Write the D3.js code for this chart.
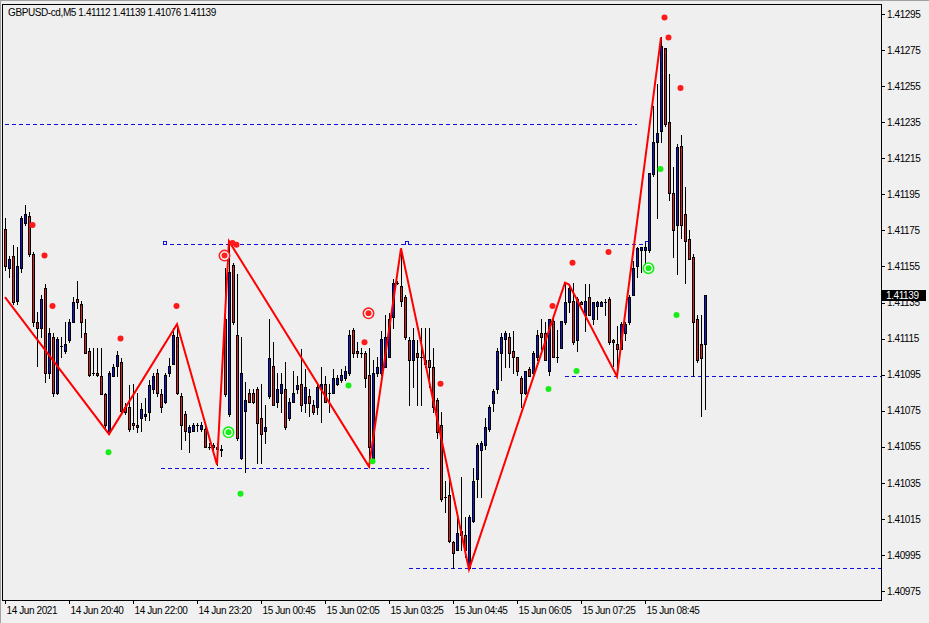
<!DOCTYPE html>
<html><head><meta charset="utf-8">
<script src="https://cdn.jsdelivr.net/npm/d3@7/dist/d3.min.js"></script>
<style>
html,body{margin:0;padding:0;background:#f0f0f0;overflow:hidden;}
svg{display:block;}
</style></head><body>
<svg id="chart" width="929" height="623"></svg>
<script>
const titleText = "GBPUSD-cd,M5  1.41112 1.41139 1.41076 1.41139";

const opens = [
1.41176,1.41154,1.41161,1.41136,1.41154,1.41179,1.41183,1.41162,1.41124,1.41121,
1.41143,1.41096,1.41116,1.41085,1.41111,1.41108,1.41114,1.41124,1.41137,1.41134,
1.41118,1.41108,1.41096,1.41096,1.41094,1.41084,1.41063,1.41094,1.41100,1.41102,
1.41077,1.41077,1.41068,1.41067,1.41071,1.41072,1.41074,1.41087,1.41096,1.41084,
1.41080,1.41096,1.41101,1.41116,1.41083,1.41073,1.41063,1.41064,1.41067,1.41065,
1.41065,1.41055,1.41056,1.41054,1.41053,1.41126,1.41073,1.41156,1.41117,1.41049,
1.41075,1.41085,1.41085,1.41087,1.41071,1.41064,1.41083,1.41100,1.41080,1.41085,
1.41087,1.41071,1.41080,1.41087,1.41090,1.41079,1.41083,1.41078,1.41077,1.41087,
1.41090,1.41085,1.41085,1.41090,1.41092,1.41093,1.41096,1.41120,1.41108,1.41107,
1.41107,1.41095,1.41049,1.41096,1.41096,1.41099,1.41105,1.41127,1.41146,1.41144,
1.41138,1.41114,1.41103,1.41107,1.41105,1.41103,1.41103,1.41099,1.41081,1.41067,
1.41027,1.41028,1.41002,1.40998,1.41006,1.41006,1.40988,1.41014,1.41037,1.41053,
1.41056,1.41065,1.41079,1.41087,1.41107,1.41115,1.41116,1.41108,1.41105,1.41093,
1.41085,1.41098,1.41096,1.41105,1.41118,1.41118,1.41097,1.41125,1.41105,1.41110,
1.41124,1.41135,1.41136,1.41114,1.41135,1.41128,1.41138,1.41126,1.41133,1.41133,
1.41135,1.41137,1.41114,1.41112,1.41109,1.41118,1.41124,1.41139,1.41155,1.41164,
1.41164,1.41164,1.41206,1.41224,1.41230,1.41276,1.41235,1.41196,1.41178,1.41222,
1.41184,1.41170,1.41160,1.41126,1.41112,1.41112];

const highs = [
1.41182,1.41161,1.41167,1.41166,1.41183,1.41189,1.41185,1.41163,1.41130,1.41139,
1.41145,1.41121,1.41118,1.41116,1.41116,1.41124,1.41126,1.41138,1.41147,1.41136,
1.41126,1.41110,1.41110,1.41110,1.41110,1.41085,1.41097,1.41101,1.41108,1.41104,
1.41079,1.41089,1.41090,1.41085,1.41079,1.41082,1.41092,1.41096,1.41098,1.41087,
1.41096,1.41104,1.41121,1.41123,1.41085,1.41075,1.41067,1.41068,1.41068,1.41069,
1.41067,1.41057,1.41057,1.41057,1.41056,1.41154,1.41169,1.41157,1.41151,1.41116,
1.41091,1.41087,1.41087,1.41088,1.41090,1.41078,1.41126,1.41113,1.41096,1.41096,
1.41102,1.41082,1.41097,1.41094,1.41109,1.41098,1.41087,1.41081,1.41090,1.41099,
1.41094,1.41090,1.41098,1.41095,1.41098,1.41100,1.41120,1.41121,1.41113,1.41110,
1.41108,1.41110,1.41103,1.41105,1.41119,1.41128,1.41129,1.41148,1.41147,1.41165,
1.41139,1.41116,1.41121,1.41114,1.41121,1.41121,1.41121,1.41110,1.41082,1.41074,
1.41036,1.41039,1.41003,1.41019,1.41038,1.41016,1.41017,1.41043,1.41057,1.41058,
1.41071,1.41078,1.41087,1.41110,1.41118,1.41119,1.41118,1.41119,1.41105,1.41094,
1.41097,1.41099,1.41108,1.41120,1.41126,1.41124,1.41126,1.41128,1.41120,1.41125,
1.41146,1.41145,1.41146,1.41138,1.41136,1.41145,1.41145,1.41135,1.41136,1.41136,
1.41137,1.41138,1.41115,1.41122,1.41124,1.41124,1.41139,1.41158,1.41166,1.41166,
1.41168,1.41207,1.41244,1.41256,1.41282,1.41276,1.41262,1.41210,1.41223,1.41228,
1.41199,1.41175,1.41162,1.41128,1.41128,1.41139];

const lows = [
1.41153,1.41149,1.41134,1.41134,1.41152,1.41178,1.41161,1.41122,1.41100,1.41116,
1.41091,1.41093,1.41083,1.41084,1.41105,1.41107,1.41113,1.41124,1.41132,1.41116,
1.41107,1.41094,1.41095,1.41094,1.41084,1.41066,1.41062,1.41094,1.41094,1.41074,
1.41073,1.41064,1.41065,1.41063,1.41064,1.41070,1.41070,1.41085,1.41083,1.41074,
1.41079,1.41094,1.41101,1.41084,1.41054,1.41059,1.41052,1.41064,1.41064,1.41064,
1.41055,1.41054,1.41052,1.41045,1.41050,1.41083,1.41072,1.41123,1.41059,1.41048,
1.41041,1.41080,1.41079,1.41046,1.41046,1.41057,1.41082,1.41078,1.41077,1.41074,
1.41065,1.41070,1.41080,1.41085,1.41075,1.41074,1.41072,1.41073,1.41073,1.41069,
1.41080,1.41074,1.41085,1.41089,1.41091,1.41092,1.41095,1.41105,1.41105,1.41105,
1.41088,1.41044,1.41047,1.41094,1.41095,1.41099,1.41105,1.41121,1.41145,1.41133,
1.41115,1.41078,1.41088,1.41078,1.41078,1.41099,1.41088,1.41074,1.41060,1.41025,
1.41019,1.41002,1.40988,1.40998,1.40998,1.40994,1.40987,1.41013,1.41027,1.41027,
1.41054,1.41064,1.41075,1.41085,1.41092,1.41099,1.41099,1.41096,1.41095,1.41077,
1.41084,1.41094,1.41095,1.41103,1.41109,1.41103,1.41095,1.41105,1.41102,1.41110,
1.41123,1.41130,1.41112,1.41108,1.41134,1.41119,1.41128,1.41123,1.41126,1.41133,
1.41128,1.41112,1.41100,1.41095,1.41109,1.41114,1.41123,1.41139,1.41149,1.41152,
1.41157,1.41163,1.41205,1.41182,1.41224,1.41233,1.41192,1.41160,1.41151,1.41171,
1.41146,1.41159,1.41094,1.41102,1.41072,1.41076];

const closes = [
1.41155,1.41159,1.41135,1.41155,1.41182,1.41184,1.41162,1.41124,1.41121,1.41137,
1.41096,1.41118,1.41085,1.41115,1.41111,1.41112,1.41124,1.41135,1.41135,1.41124,
1.41107,1.41095,1.41096,1.41095,1.41084,1.41067,1.41096,1.41099,1.41106,1.41075,
1.41074,1.41065,1.41067,1.41066,1.41076,1.41073,1.41089,1.41094,1.41085,1.41077,
1.41095,1.41100,1.41117,1.41085,1.41067,1.41064,1.41066,1.41067,1.41067,1.41067,
1.41055,1.41055,1.41055,1.41055,1.41054,1.41084,1.41152,1.41124,1.41060,1.41096,
1.41081,1.41080,1.41080,1.41068,1.41062,1.41066,1.41104,1.41078,1.41087,1.41090,
1.41066,1.41080,1.41085,1.41089,1.41078,1.41088,1.41079,1.41074,1.41088,1.41090,
1.41080,1.41085,1.41093,1.41093,1.41095,1.41097,1.41117,1.41107,1.41107,1.41107,
1.41093,1.41055,1.41096,1.41099,1.41115,1.41116,1.41126,1.41146,1.41146,1.41136,
1.41116,1.41103,1.41114,1.41105,1.41105,1.41101,1.41099,1.41077,1.41063,1.41026,
1.41027,1.41003,1.40996,1.41007,1.41008,1.40998,1.41016,1.41036,1.41056,1.41057,
1.41066,1.41077,1.41086,1.41108,1.41116,1.41118,1.41107,1.41105,1.41097,1.41085,
1.41097,1.41094,1.41107,1.41117,1.41116,1.41103,1.41126,1.41105,1.41105,1.41125,
1.41135,1.41143,1.41113,1.41137,1.41134,1.41136,1.41128,1.41135,1.41135,1.41135,
1.41135,1.41113,1.41113,1.41109,1.41123,1.41123,1.41138,1.41154,1.41165,1.41166,
1.41166,1.41207,1.41224,1.41229,1.41277,1.41234,1.41196,1.41175,1.41221,1.41178,
1.41169,1.41159,1.41124,1.41103,1.41104,1.41139];

const priceTicks = [1.40975,1.40995,1.41015,1.41035,1.41055,1.41075,1.41095,1.41115,1.41135,
  1.41155,1.41175,1.41195,1.41215,1.41235,1.41255,1.41275,1.41295];
const timeTickBars = [0,16,32,48,64,80,96,112,128,144,160];
const timeTickLabels = ["14 Jun 2021","14 Jun 20:40","14 Jun 22:00","14 Jun 23:20","15 Jun 00:45",
  "15 Jun 02:05","15 Jun 03:25","15 Jun 04:45","15 Jun 06:05","15 Jun 07:25","15 Jun 08:45"];

const zigzagBars   = [0,26,43,53,56,91,99,116,140,141,153,164];
const zigzagPrices = [1.41138,1.41062,1.41123,1.41045,1.41169,1.41044,1.41165,1.40987,1.41146,1.41145,1.41094,1.41282];

const upFractalBars   = [7,10,12,29,43,57,58,90,109,137,142,151,165,166,169];
const upFractalPrices = [1.41178,1.41161,1.41133,1.41115,1.41133,1.41168,1.41167,1.41113,1.41090,1.41133,1.41157,1.41163,1.41293,1.41282,1.41254];
const downFractalBars   = [26,59,86,92,136,143,164,168];
const downFractalPrices = [1.41052,1.41029,1.41089,1.41047,1.41087,1.41097,1.41209,1.41128];
const sellSignalBars = [55,91];
const sellSignalPrices = [1.41161,1.41129];
const buySignalBars = [56,161];
const buySignalPrices = [1.41063,1.41154];

const levelPrices = [1.41234,1.411675,1.41094,1.41043,1.40988];
const levelFrom   = [0,39.5,140,39,101];
const levelTo     = [158,160,null,106,null];
const levelMarkBars = [39.5,100,160];   // small markers on the 1.411675 level

const lastPrice = 1.41139;

// ---------------------------------------------------------------
const svg = d3.select("#chart");
const W = 929, H = 623;
const L = 2, R = 881, T = 4, B = 600;
const FONT = "'Liberation Sans', Arial, sans-serif";
const BLUE = "#1616c8", RED = "#dc1e1e", LEVEL = "#1010e0";

const n = opens.length;
const x = d3.scaleLinear().domain([0, 16]).range([5, 69]);
const y = d3.scaleLinear().domain([1.40975, 1.41295]).range([591, 14]);

svg.append("rect").attr("width", W).attr("height", H).attr("fill", "#f0f0f0");
svg.append("line").attr("x1",0).attr("x2",W).attr("y1",0.5).attr("y2",0.5).attr("stroke","#a0a0a0");
svg.append("line").attr("x1",0.5).attr("x2",0.5).attr("y1",0).attr("y2",H).attr("stroke","#a0a0a0");

svg.append("defs").append("clipPath").attr("id","plot")
  .append("rect").attr("x",L+1).attr("y",T+1).attr("width",R-L-1).attr("height",B-T-1);

svg.append("rect").attr("x", L + 0.5).attr("y", T + 0.5).attr("width", R - L).attr("height", B - T)
  .attr("fill", "#efefef").attr("stroke", "#000").attr("shape-rendering","crispEdges");

const plot = svg.append("g").attr("clip-path","url(#plot)");

// levels
const lv = plot.append("g").attr("shape-rendering","crispEdges");
levelPrices.forEach((p, k) => {
  const yy = Math.round(y(p)) + 0.5;
  const x1 = x(levelFrom[k]);
  const x2 = levelTo[k] === null ? R : x(levelTo[k]);
  lv.append("line").attr("x1", x1).attr("x2", x2).attr("y1", yy).attr("y2", yy)
    .attr("stroke", LEVEL).attr("stroke-width", 1).attr("stroke-dasharray", "4,3");
});
levelMarkBars.forEach(b => {
  const xx = Math.round(x(b)) + 0.5, yy = Math.round(y(levelPrices[1])) + 0.5;
  lv.append("path").attr("d", `M${xx},${yy}V${yy-3}H${xx+3}V${yy}`)
    .attr("fill","none").attr("stroke", LEVEL);
});

// candles
const cg = plot.append("g").attr("shape-rendering","crispEdges");
for (let i = 0; i < n; i++) {
  const cx = Math.round(x(i));
  const yH = Math.round(y(highs[i])), yL = Math.round(y(lows[i]));
  const yO = Math.round(y(opens[i])), yC = Math.round(y(closes[i]));
  cg.append("rect").attr("x", cx).attr("y", yH).attr("width", 1).attr("height", Math.max(1, yL - yH + 1)).attr("fill", "#000");
  const top = Math.min(yO, yC), bot = Math.max(yO, yC);
  cg.append("rect").attr("x", cx - 1).attr("y", top).attr("width", 3).attr("height", bot - top + 1).attr("fill", "#000");
  if (bot - top >= 2) {
    cg.append("rect").attr("x", cx).attr("y", top + 1).attr("width", 1).attr("height", bot - top - 1)
      .attr("fill", closes[i] > opens[i] ? BLUE : RED);
  }
}

// zigzag
const zz = zigzagBars.map((b, k) => [b, zigzagPrices[k]]);
plot.append("path").datum(zz)
  .attr("d", d3.line().x(d => x(d[0])).y(d => y(d[1])))
  .attr("fill", "none").attr("stroke", "#ff0000").attr("stroke-width", 2).attr("stroke-linejoin","miter");

// fractal dots
function dots(bars, prices, col) {
  bars.forEach((b, k) => {
    plot.append("circle").attr("cx", x(b) - 0.5).attr("cy", y(prices[k])).attr("r", 3).attr("fill", col);
  });
}
dots(upFractalBars, upFractalPrices, "#ff1a1a");
dots(downFractalBars, downFractalPrices, "#16ee16");

function rings(bars, prices, col) {
  bars.forEach((b, k) => {
    const cx = x(b) - 0.5, cy = y(prices[k]);
    plot.append("circle").attr("cx", cx).attr("cy", cy).attr("r", 5.2)
      .attr("fill", "#ffffff").attr("stroke", col).attr("stroke-width", 1.6);
    plot.append("circle").attr("cx", cx).attr("cy", cy).attr("r", 3).attr("fill", col);
  });
}
rings(sellSignalBars, sellSignalPrices, "#ff2020");
rings(buySignalBars, buySignalPrices, "#16ee16");

// price axis
const yAxis = d3.axisRight(y).tickValues(priceTicks).tickFormat(d3.format(".5f")).tickSize(4).tickPadding(2);
const ya = svg.append("g").attr("transform", `translate(${R},0)`).call(yAxis);
ya.select(".domain").remove();
ya.selectAll("line").attr("stroke", "#000").attr("shape-rendering","crispEdges");
ya.selectAll("text").attr("font-family", FONT).attr("font-size", 10).attr("letter-spacing", "-0.4px").attr("fill", "#000");

// time axis
const xAxis = d3.axisBottom(x).tickValues(timeTickBars).tickFormat((d, k) => timeTickLabels[k]).tickSize(4);
const xa = svg.append("g").attr("transform", `translate(0,${B})`).call(xAxis);
xa.select(".domain").remove();
xa.selectAll("line").attr("stroke", "#000").attr("shape-rendering","crispEdges");
xa.selectAll("text").attr("text-anchor", "start").attr("x", 1).attr("y", 7).attr("dy", "0.71em")
  .attr("font-family", FONT).attr("font-size", 10).attr("letter-spacing", "-0.4px").attr("fill", "#000");

// current price box
const yp = y(lastPrice);
svg.append("rect").attr("x", R + 1).attr("y", Math.round(yp) - 5).attr("width", 44).attr("height", 11).attr("fill", "#000");
svg.append("text").attr("x", R + 5).attr("y", yp).attr("dy", "0.35em").text(d3.format(".5f")(lastPrice))
  .attr("font-family", FONT).attr("font-size", 10).attr("letter-spacing", "-0.4px").attr("fill", "#fff");

// title
svg.append("text").attr("x", 8).attr("y", 16).text(titleText)
  .attr("font-family", FONT).attr("font-size", 10).attr("letter-spacing", "-0.4px").attr("fill", "#000");
</script>
</body></html>
